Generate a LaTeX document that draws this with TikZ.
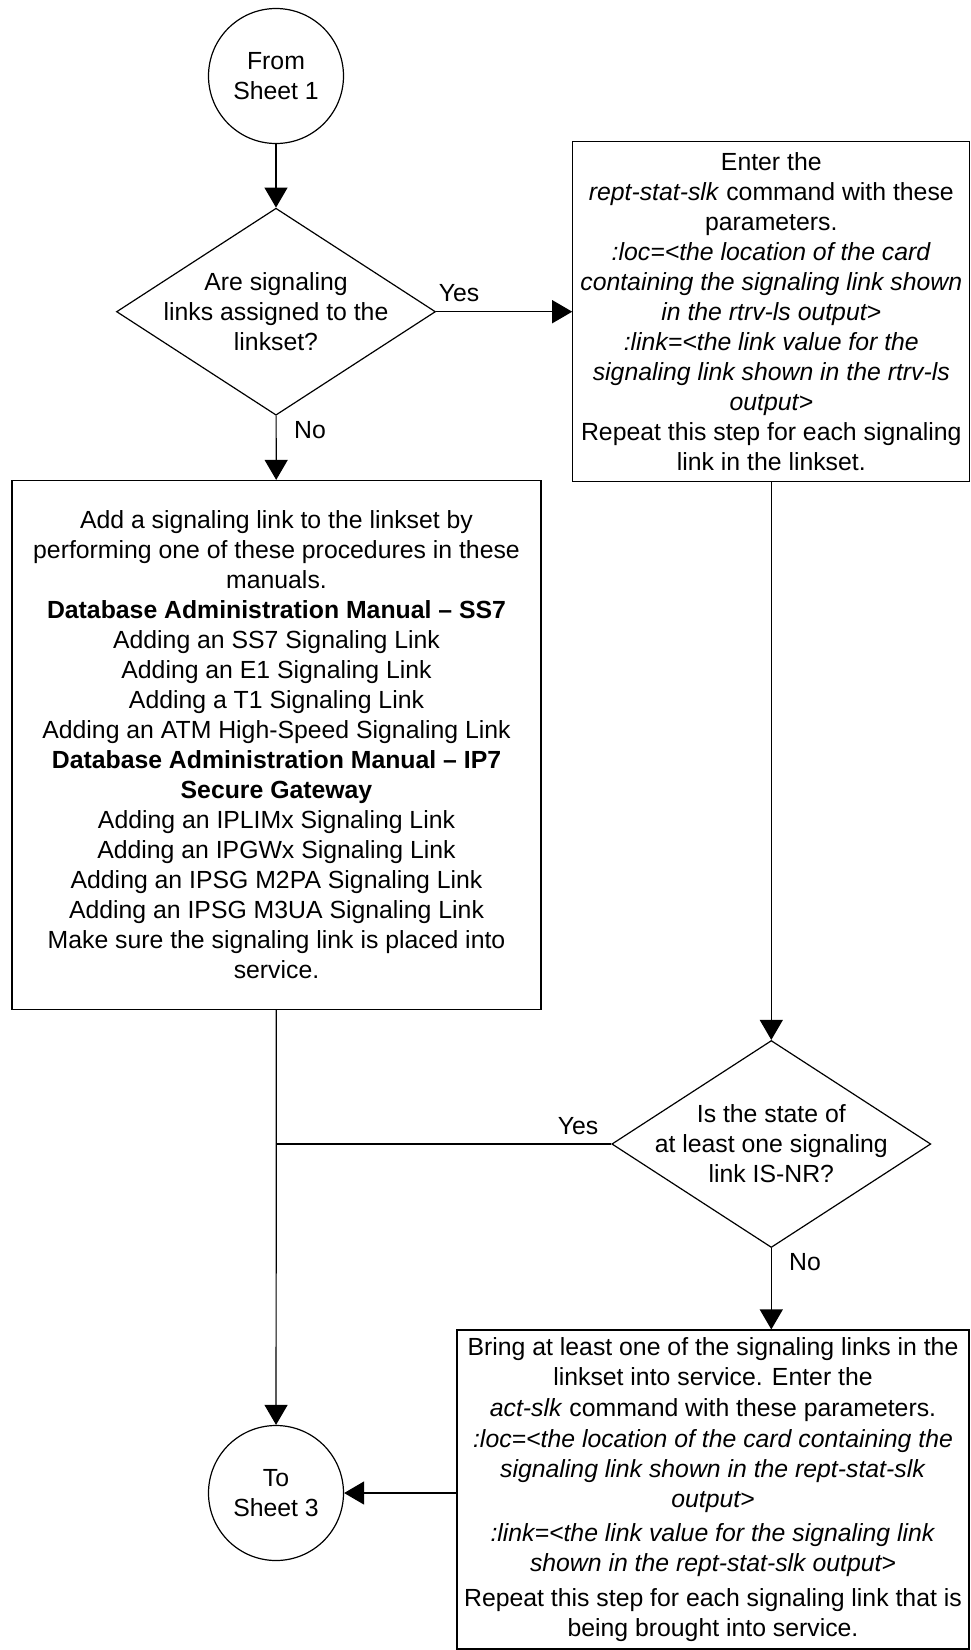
\documentclass[tikz,border=0pt]{standalone}
\usepackage{fontspec}
\setmainfont{Liberation Sans}
\usepackage{tikz}
\usetikzlibrary{shapes.geometric,arrows.meta,positioning}

\begin{document}
\begin{tikzpicture}[
  x=1pt, y=-1pt,
  every node/.style={font=\fontsize{24.8}{30}\selectfont},
  connector/.style={circle, draw, line width=1.2pt,
    minimum size=135pt, inner sep=0pt, align=center},
  decision/.style={diamond, draw, line width=1.2pt,
    minimum width=319pt, minimum height=207pt, inner sep=0pt},
  process/.style={rectangle, draw, line width=1.2pt,
    inner sep=0pt, align=center},
  flow/.style={line width=1.2pt, -{Triangle[length=20pt, width=23pt]}},
  joinline/.style={line width=1.2pt},
]
  \useasboundingbox (0,0) rectangle (971,1650);

  % Left column
  \node[connector] (from) at (276,76) {From\\Sheet 1};
  \node[decision, label={[align=center]center:{Are signaling\\links assigned to the\\linkset?}}]
    (linksq) at (276,311.7) {};
  \node[process, minimum width=529pt, minimum height=529pt] (addlink) at (276.5,745)
    {Add a signaling link to the linkset by\\
     performing one of these procedures in these\\
     manuals.\\
     \textbf{Database Administration Manual – SS7}\\
     Adding an SS7 Signaling Link\\
     Adding an E1 Signaling Link\\
     Adding a T1 Signaling Link\\
     Adding an ATM High-Speed Signaling Link\\
     \textbf{Database Administration Manual – IP7}\\
     \textbf{Secure Gateway}\\
     Adding an IPLIMx Signaling Link\\
     Adding an IPGWx Signaling Link\\
     Adding an IPSG M2PA Signaling Link\\
     Adding an IPSG M3UA Signaling Link\\
     Make sure the signaling link is placed into\\
     service.};
  \node[connector] (to) at (276,1493) {To\\Sheet 3};

  % Right column
  \node[process, minimum width=397pt, minimum height=340pt] (reptstat) at (771.3,311.7)
    {Enter the\\
     \textit{rept-stat-slk} command with these\\
     parameters.\\
     \textit{:loc=<the location of the card}\\
     \textit{containing the signaling link shown}\\
     \textit{in the rtrv-ls output>}\\
     \textit{:link=<the link value for the}\\
     \textit{signaling link shown in the rtrv-ls}\\
     \textit{output>}\\
     Repeat this step for each signaling\\
     link in the linkset.};
  \node[decision, label={[align=center]center:{Is the state of\\at least one signaling\\link IS-NR?}}]
    (isnrq) at (771.3,1144) {};
  \node[process, minimum width=512pt, minimum height=319pt] (actslk) at (713,1489.5)
    {Bring at least one of the signaling links in the\\
     linkset into service. Enter the\\[1pt]
     \textit{act-slk} command with these parameters.\\[1pt]
     \textit{:loc=<the location of the card containing the}\\
     \textit{signaling link shown in the rept-stat-slk}\\
     \textit{output>}\\[4pt]
     \textit{:link=<the link value for the signaling link}\\
     \textit{shown in the rept-stat-slk output>}\\[5pt]
     Repeat this step for each signaling link that is\\
     being brought into service.};

  % Branch labels
  \node (yes1) at (459,293) {Yes};
  \node (no1) at (310,430) {No};
  \node (yes2) at (578,1126) {Yes};
  \node (no2) at (805,1262) {No};

  % Connectors
  \draw[flow] (from) -- (linksq);
  \draw[flow] (linksq.east) -- (reptstat.west);
  \draw[flow] (linksq) -- (addlink);
  \draw[flow] (reptstat) -- (isnrq);
  \draw[flow] (addlink) -- (to);
  \draw[joinline] (isnrq.west) -- (isnrq.west -| addlink.south);
  \draw[flow] (isnrq.south) -- (isnrq.south |- actslk.north);
  \draw[flow] (actslk.west |- to.east) -- (to.east);
\end{tikzpicture}
\end{document}
